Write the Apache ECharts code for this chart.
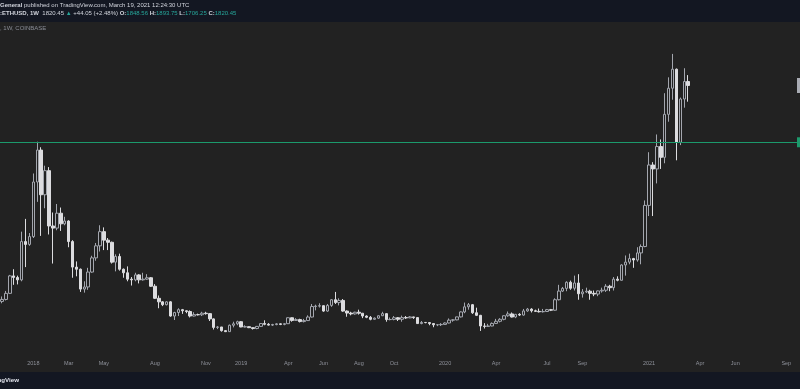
<!DOCTYPE html>
<html><head><meta charset="utf-8">
<script src="https://cdn.jsdelivr.net/npm/echarts@6/dist/echarts.min.js"></script>
<style>html,body{margin:0;padding:0;background:#222222;overflow:hidden}#c{width:800px;height:389px}</style>
</head><body><div id="c"></div>
<script>
// ---- data ----
const startWeek = '2017-11-06';
const weekCount = 204; // includes empty future weeks to the right edge
const tickDates = ['2018-01-01','2018-03-05','2018-05-07','2018-08-06','2018-11-05','2019-01-07','2019-04-01','2019-06-03','2019-08-05','2019-10-07','2020-01-06','2020-04-06','2020-07-06','2020-09-07','2021-01-04','2021-04-05','2021-06-07','2021-09-06'];
const tickTexts = ['2018','Mar','May','Aug','Nov','2019','Apr','Jun','Aug','Oct','2020','Apr','Jul','Sep','2021','Apr','Jun','Sep'];
// weekly candles [open, high, low, close]
const ohlc2017 = [
 [298,333,285,312],[312,372,305,355],[355,485,352,478],[478,525,415,467],[467,480,418,450],
 [450,790,440,720],[720,880,540,700],[700,780,690,755]
];
const ohlc2018 = [
 [755,1200,745,1140],[1140,1424,1000,1365],[1365,1385,760,1050],[1050,1255,955,1220],[1220,1245,770,830],
 [830,925,565,815],[815,985,800,920],[920,960,795,845],[845,895,835,865],[865,870,680,720],
 [720,730,465,540],[540,580,475,525],[525,530,365,385],[385,440,360,400],[400,535,380,505],
 [505,620,500,605],[605,710,585,690],[690,835,650,790],[790,820,660,730],[730,745,660,715],
 [715,720,565,575],[575,630,510,615],[615,635,515,525],[525,530,465,500],[500,545,440,455],
 [455,470,410,450],[450,500,440,485],[485,490,425,450],[450,500,445,455],[455,490,450,465],
 [465,470,400,405],[405,420,315,320],[320,340,250,295],[295,300,265,275],[275,300,270,295],
 [295,300,190,195],[195,225,167,220],[220,250,195,240],[240,245,210,232],[232,235,215,227],
 [227,235,185,195],[195,222,192,205],[205,212,199,204],[204,225,195,215],[215,225,205,212],
 [212,216,160,175],[175,178,100,115],[115,125,103,118],[118,118,85,92],[92,95,82,85],
 [85,135,84,130],[130,155,115,140]
];
const ohlc2019 = [
 [140,162,130,155],[155,160,116,118],[118,130,115,120],[120,122,110,113],[113,115,100,107],
 [107,125,102,122],[122,145,118,142],[142,165,130,137],[137,145,128,131],[131,140,125,135],
 [135,145,130,140],[140,143,131,136],[136,145,130,141],[141,185,139,183],[183,185,155,164],
 [164,180,160,170],[170,176,150,156],[156,175,150,163],[163,200,160,188],[188,280,185,262],
 [262,275,235,265],[265,285,255,268],[268,270,225,230],[230,280,225,270],[270,315,260,310],
 [310,365,280,290],[290,320,270,305],[305,315,225,230],[230,235,190,216],[216,225,200,210],
 [210,225,205,222],[222,240,205,215],[215,215,180,195],[195,200,180,186],[186,195,165,172],
 [172,185,170,180],[180,200,175,197],[197,225,195,212],[212,215,155,170],[170,185,165,171],
 [171,195,165,183],[183,188,160,172],[172,198,155,184],[184,195,175,182],[182,195,180,189],
 [189,190,175,184],[184,185,140,142],[142,160,137,150],[150,152,144,149],[149,152,130,142],
 [142,145,116,133],[133,135,124,134]
];
const ohlc2020 = [
 [134,145,125,136],[136,150,135,146],[146,178,143,166],[166,172,155,168],[168,190,165,189],
 [189,228,185,224],[224,290,215,260],[260,287,240,275],[275,280,210,218],[218,254,195,200],
 [200,203,90,125],[125,145,107,122],[122,140,120,125],[125,150,123,143],[143,175,140,158],
 [158,180,150,172],[172,200,165,197],[197,227,190,210],[210,220,185,188],[188,210,180,207],
 [207,215,195,202],[202,245,198,231],[231,252,225,244],[244,250,220,232],[232,240,225,228],
 [228,248,220,225],[225,245,220,227],[227,245,226,240],[240,245,230,236],[236,320,233,310],
 [310,415,305,371],[371,400,365,390],[390,440,370,433],[433,445,380,391],[391,480,375,428],
 [428,490,310,352],[352,385,325,365],[365,395,357,370],[370,380,310,355],[355,375,335,350],
 [350,375,335,372],[372,395,360,377],[377,420,365,405],[405,415,370,395],[395,470,375,455],
 [455,475,440,447],[447,560,445,555],[555,622,480,575],[575,635,560,600],[600,605,535,590],
 [590,680,578,640],[640,700,560,685],[685,1010,680,975]
];
const ohlc2021 = [
 [975,1350,900,1260],[1260,1280,900,1232],[1232,1475,1130,1390],[1390,1440,1232,1314],
 [1314,1766,1272,1617],[1617,1878,1565,1801],[1801,2043,1720,1935],[1935,1940,1293,1420],
 [1420,1735,1400,1725],[1725,1942,1664,1848.56],[1848.56,1893.75,1706.25,1820.45]
];
const resistanceLevel = 1420;
const lastPrice = 1820.45;

// ---- build ----
function pad(n){return (n<10?'0':'')+n;}
const categories = [];
{
  const d0 = new Date(startWeek + 'T00:00:00Z');
  for (let i = 0; i < weekCount; i++) {
    const d = new Date(d0.getTime() + i * 7 * 86400000);
    categories.push(d.getUTCFullYear() + '-' + pad(d.getUTCMonth() + 1) + '-' + pad(d.getUTCDate()));
  }
}
const allOhlc = [].concat(ohlc2017, ohlc2018, ohlc2019, ohlc2020, ohlc2021);
const candleData = allOhlc.map(r => [r[0], r[3], r[2], r[1]]); // echarts: open, close, low, high

const BG = '#222222', NAVY = '#131722', TEAL = '#26a69a', TXT = '#d1d4dc', GREEN = '#1c9a6c';
const FONT = 'Liberation Sans, Arial, sans-serif';
const HF = 6;

const chart = echarts.init(document.getElementById('c'), null, {renderer: 'canvas'});
chart.setOption({
  animation: false,
  backgroundColor: BG,
  grid: {left: 0, right: 0, top: 22, bottom: 45.3, containLabel: false},
  xAxis: {
    type: 'category', data: categories, boundaryGap: true,
    axisLine: {show: false}, axisTick: {show: false}, splitLine: {show: false},
    axisLabel: {
      interval: (i, v) => tickDates.indexOf(v) >= 0,
      formatter: v => { const k = tickDates.indexOf(v); return k >= 0 ? tickTexts[k] : ''; },
      color: '#8f929b', fontSize: 5.5, fontFamily: FONT, margin: 17
    }
  },
  yAxis: {type: 'value', min: 0, max: 2268, show: false, splitLine: {show: false}},
  series: [{
    type: 'candlestick', data: candleData, barWidth: 3,
    itemStyle: {color: BG, color0: '#dcdcdf', borderColor: '#a3a6ae', borderColor0: '#dcdcdf', borderWidth: 1},
    markLine: {
      silent: true, symbol: ['none', 'none'], animation: false,
      data: [
        {yAxis: resistanceLevel, lineStyle: {color: GREEN, width: 1, type: 'solid'},
         label: {show: true, position: 'end', distance: -3, formatter: '1420.00', backgroundColor: GREEN, color: '#fff', fontSize: 6, padding: [2, 4]}},
        {yAxis: lastPrice, lineStyle: {color: 'rgba(0,0,0,0)', width: 1},
         label: {show: true, position: 'end', distance: -3, formatter: '1820.45', backgroundColor: '#a9acb4', color: '#000', fontSize: 7, padding: [4, 4]}}
      ]
    }
  }],
  graphic: [
    {type: 'rect', left: 0, top: 0, shape: {width: 800, height: 22}, style: {fill: NAVY}, z: -1},
    {type: 'rect', left: 0, top: 372, shape: {width: 800, height: 17}, style: {fill: NAVY}, z: -1},
    {type: 'text', left: 0, top: 2.5, style: {
      text: '{b|General} published on TradingView.com, March 19, 2021 12:24:30 UTC',
      fill: TXT, fontSize: HF, fontFamily: FONT,
      rich: {b: {fontWeight: 'bold', fill: TXT, fontSize: HF, fontFamily: FONT}}
    }},
    {type: 'text', left: 0, top: 10.8, style: {
      text: '{b|:ETHUSD, 1W}  1820.45 {t|▲} +44.05 (+2.48%) {b|O:}{t|1848.56} {b|H:}{t|1893.75} {b|L:}{t|1706.25} {b|C:}{t|1820.45}',
      fill: TXT, fontSize: HF, fontFamily: FONT,
      rich: {
        b: {fontWeight: 'bold', fill: TXT, fontSize: HF, fontFamily: FONT},
        t: {fill: TEAL, fontSize: HF, fontFamily: FONT}
      }
    }},
    {type: 'text', left: 0, top: 25.5, style: {text: ', 1W, COINBASE', fill: '#8a8d96', fontSize: 6, fontFamily: FONT}},
    {type: 'text', right: 781, top: 377, style: {text: 'TradingView', fill: '#e0e3eb', fontSize: 6.2, fontWeight: 'bold', fontFamily: FONT, textAlign: 'right'}}
  ]
});
</script></body></html>
